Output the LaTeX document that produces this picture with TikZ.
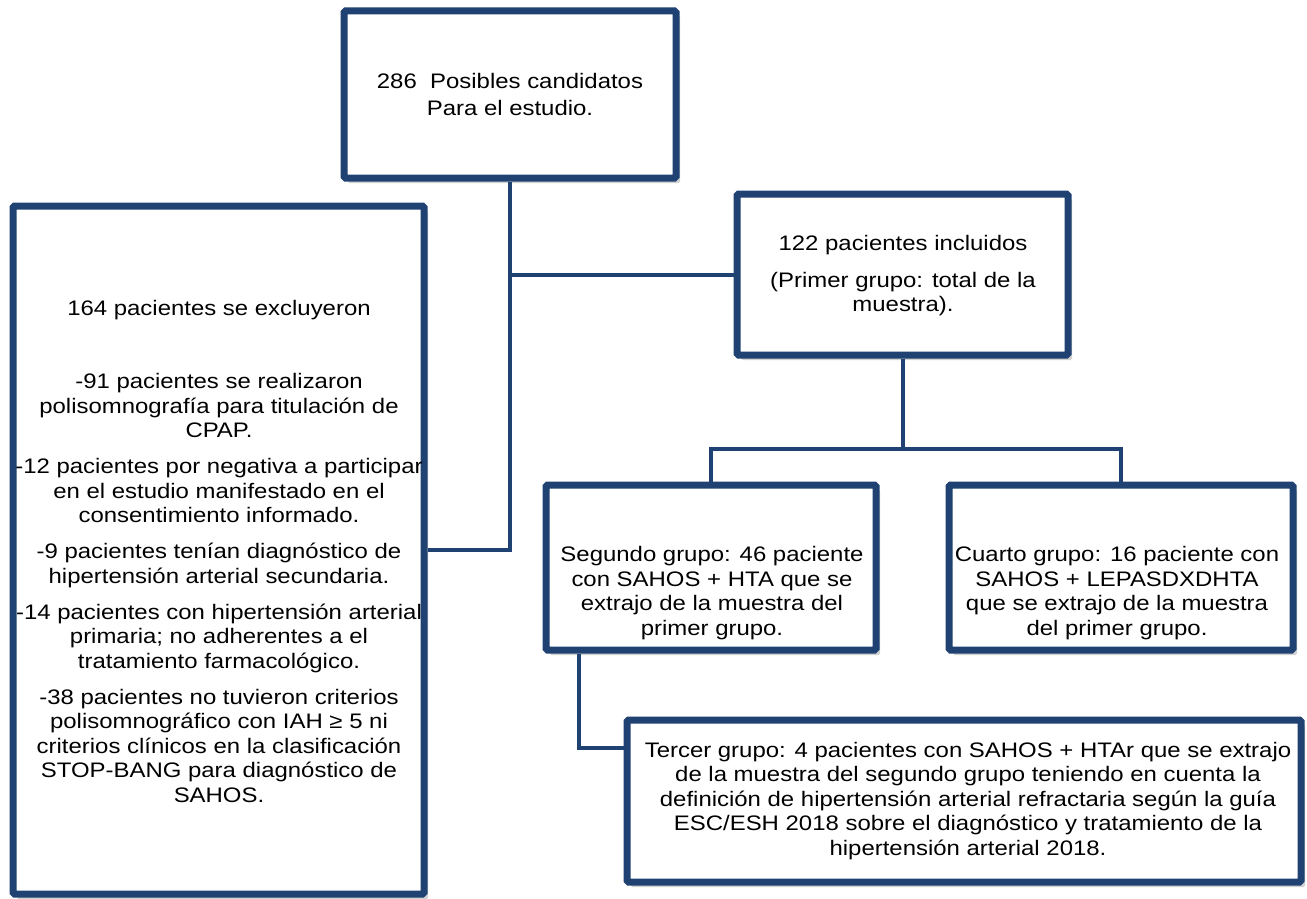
\documentclass[tikz,border=0pt]{standalone}
\usepackage{fontspec}
\setmainfont{Liberation Sans}[FakeStretch=1.14]
\usetikzlibrary{shadows}
\definecolor{frame}{RGB}{31,66,114}
\tikzset{
  box/.style={draw=frame, line width=7pt, fill=white, rounded corners=1.5pt, inner sep=0pt,
    drop shadow={shadow xshift=4pt, shadow yshift=-5pt, opacity=0.18, fill=black}},
  link/.style={draw=frame, line width=4pt},
  txt/.style={align=center, inner sep=0pt, font=\fontsize{21}{24.5}\selectfont, text=black}
}
\begin{document}
\begin{tikzpicture}[x=1pt, y=-1pt]
\useasboundingbox (0,0) rectangle (1307,899);
% coordinates for connector bends
\coordinate (bus) at (903,449);
\coordinate (sj) at (579,748);
% boxes
\node[box, minimum width=332pt, minimum height=167pt] (top) at (510,94.5) {};
\node[box, minimum width=411pt, minimum height=688pt] (left) at (218.5,550) {};
\node[box, minimum width=331pt, minimum height=161pt] (b122) at (902.5,274.5) {};
\node[box, minimum width=330pt, minimum height=165pt] (seg) at (711,567.5) {};
\node[box, minimum width=344pt, minimum height=165pt] (cua) at (1121,567.5) {};
\node[box, minimum width=674pt, minimum height=162pt] (ter) at (964,801) {};
% connectors
\draw[link] (top.south) -- (top.south |- left.east) -- (left.east);
\draw[link] (top.south |- b122.west) -- (b122.west);
\draw[link] (b122.south) -- (b122.south |- bus);
\draw[link] (seg.north) |- (bus) -| (cua.north);
\draw[link] (seg.south -| sj) -- (sj) -- (sj -| ter.west);
% texts
\node[txt] (ttop) at (510,94) {286\ \ Posibles candidatos\\[2.5pt] Para el estudio.};
\node[txt] (tlefth) at (219,310) {164 pacientes se excluyeron};
\node[txt] (tleft) at (219,588) {-91 pacientes se realizaron\\ polisomnografía para titulación de\\ CPAP.\\[11.5pt]
-12 pacientes por negativa a participar\\ en el estudio manifestado en el\\ consentimiento informado.\\[11.5pt]
-9 pacientes tenían diagnóstico de\\ hipertensión arterial secundaria.\\[11.5pt]
-14 pacientes con hipertensión arterial\\ primaria; no adherentes a el\\ tratamiento farmacológico.\\[11.5pt]
-38 pacientes no tuvieron criterios\\ polisomnográfico con IAH ≥ 5 ni\\ criterios clínicos en la clasificación\\ STOP-BANG para diagnóstico de\\ SAHOS.};
\node[txt] (t122) at (903,276) {122 pacientes incluidos\\[12pt] (Primer grupo: total de la\\ muestra).};
\node[txt] (tseg) at (712,593) {Segundo grupo: 46 paciente\\ con SAHOS + HTA que se\\ extrajo de la muestra del\\ primer grupo.};
\node[txt] (tcua) at (1117,593) {Cuarto grupo: 16 paciente con\\ SAHOS + LEPASDXDHTA\\ que se extrajo de la muestra\\ del primer grupo.};
\node[txt] (tter) at (968,801) {Tercer grupo: 4 pacientes con SAHOS + HTAr que se extrajo\\ de la muestra del segundo grupo teniendo en cuenta la\\ definición de hipertensión arterial refractaria según la guía\\ ESC/ESH 2018 sobre el diagnóstico y tratamiento de la\\ hipertensión arterial 2018.};
\end{tikzpicture}
\end{document}
